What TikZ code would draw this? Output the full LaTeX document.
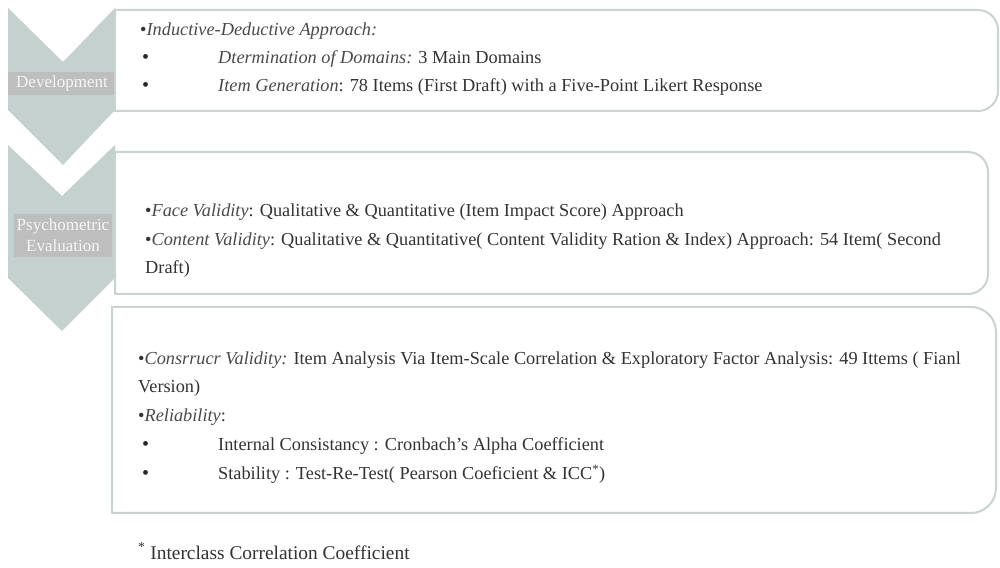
\documentclass[tikz,border=0pt]{standalone}
\usepackage{fontspec}
\setmainfont{Liberation Serif}
\definecolor{chev}{HTML}{C5D1CF}
\definecolor{band}{HTML}{BEBEBE}
\definecolor{boxline}{HTML}{C9D4D2}
\definecolor{txt}{HTML}{333333}
\definecolor{itx}{HTML}{4A4A4A}
\begin{document}
\begin{tikzpicture}[x=1pt,y=1pt,
  chevst/.style={fill=chev,draw=none},
  bandst/.style={fill=band,draw=none},
  boxst/.style={draw=boxline,line width=2pt,fill=white},
  lbl/.style={text=white!93!gray,font=\fontsize{17}{18}\selectfont,align=center,inner sep=0pt},
  ln/.style={anchor=base west,inner sep=0pt,text=txt,font=\fontsize{18.3}{21}\selectfont},
  bul/.style={anchor=base west,inner sep=0pt,text=black!85,font=\fontsize{20}{21}\selectfont}]
\useasboundingbox (0,0) rectangle (1000,567);
\fill[white] (0,0) rectangle (1000,567);
% chevrons
\path[chevst] (8,559) -- (63,505) -- (115,559) -- (115,457) -- (63,402) -- (8,457) -- cycle;
\path[chevst] (8,422) -- (62,371) -- (115,422) -- (115,289) -- (62,236) -- (8,289) -- cycle;
\path[bandst] (8,472) rectangle (115,495);
\path[bandst] (14,310) rectangle (112,353);
\node[lbl] (dev) at (62,483.5) {Development};
\node[lbl] (psy) at (63,332) {Psychometric\\[3pt]Evaluation};
% boxes
\draw[boxst] (115,557) -- (978,557) arc[start angle=90,end angle=0,radius=20] -- (998,476) arc[start angle=0,end angle=-90,radius=20] -- (115,456) -- cycle;
\draw[boxst] (115,415) -- (968,415) arc[start angle=90,end angle=0,radius=20] -- (988,293) arc[start angle=0,end angle=-90,radius=20] -- (115,273) -- cycle;
\draw[boxst] (112,260) -- (971,260) arc[start angle=90,end angle=0,radius=25] -- (996,79) arc[start angle=0,end angle=-90,radius=25] -- (112,54) -- cycle;
% box 1 text
\node[ln] (a1) at (140,531) {\textbullet\textcolor{itx}{\itshape Inductive-Deductive Approach:}};
\node[bul] (a2b) at (142,503) {\textbullet};
\node[ln] (a2) at (218,503) {\textcolor{itx}{\itshape Dtermination of Domains:} 3 Main Domains};
\node[bul] (a3b) at (142,475) {\textbullet};
\node[ln] (a3) at (218,475) {\textcolor{itx}{\itshape Item Generation}: 78 Items (First Draft) with a Five-Point Likert Response};
% box 2 text
\node[ln] (b1) at (145,350) {\textbullet\textcolor{itx}{\itshape Face Validity}: Qualitative \& Quantitative (Item Impact Score) Approach};
\node[ln] (b2) at (145,321) {\textbullet\textcolor{itx}{\itshape Content Validity}: Qualitative \& Quantitative( Content Validity Ration \& Index) Approach: 54 Item( Second};
\node[ln] (b3) at (145,293) {Draft)};
% box 3 text
\node[ln] (c1) at (138,202) {\textbullet\textcolor{itx}{\itshape Consrrucr Validity:} Item Analysis Via Item-Scale Correlation \& Exploratory Factor Analysis: 49 Ittems ( Fianl};
\node[ln] (c2) at (138,174) {Version)};
\node[ln] (c3) at (138,145) {\textbullet\textcolor{itx}{\itshape Reliability}:};
\node[bul] (c4b) at (142,116) {\textbullet};
\node[ln] (c4) at (218,116) {Internal Consistancy : Cronbach's Alpha Coefficient};
\node[bul] (c5b) at (142,87) {\textbullet};
\node[ln] (c5) at (218,87) {Stability : Test-Re-Test( Pearson Coeficient \& ICC\textsuperscript{*})};
% footnote
\node[ln,font=\fontsize{19.4}{21}\selectfont] (fn) at (138,8) {\textsuperscript{*} Interclass Correlation Coefficient};
\end{tikzpicture}
\end{document}
